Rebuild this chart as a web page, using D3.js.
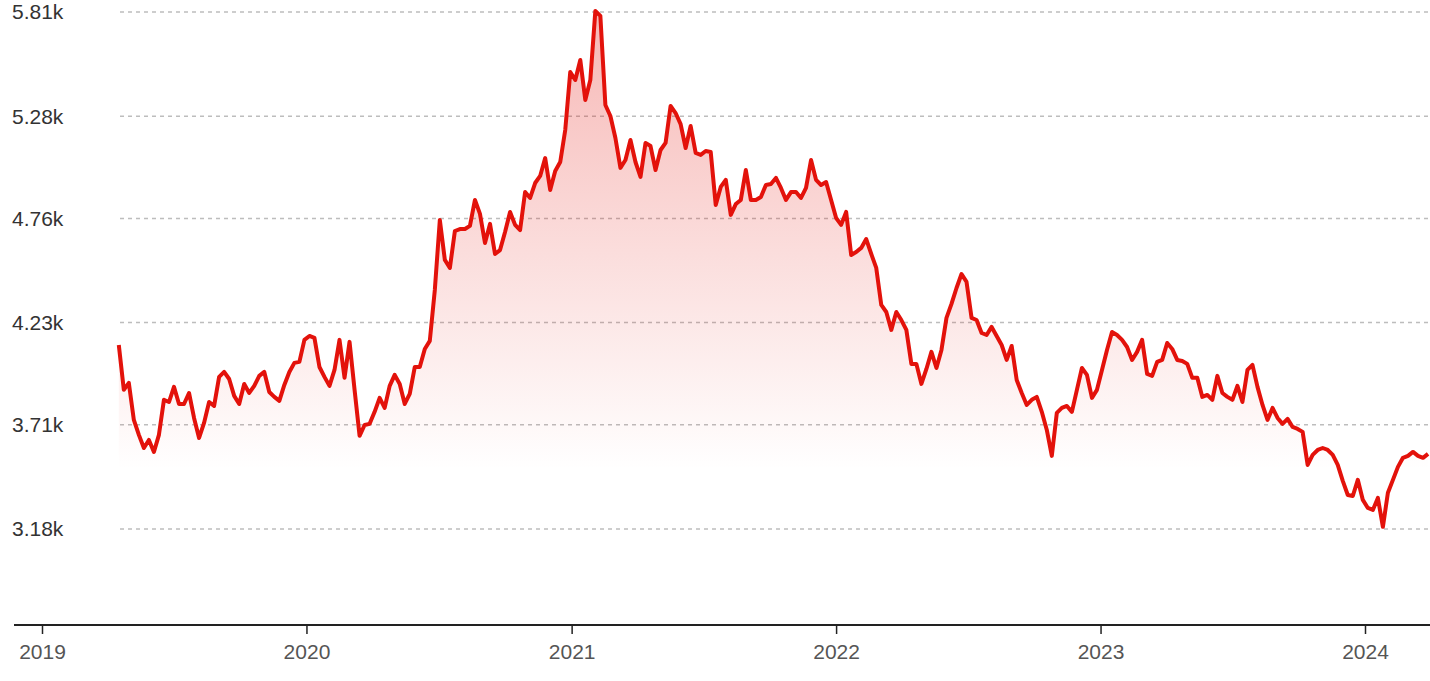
<!DOCTYPE html>
<html><head><meta charset="utf-8">
<script src="https://cdn.jsdelivr.net/npm/d3@7"></script>
<style>body{margin:0;background:#fff}svg text{font-family:"Liberation Sans",Arial,sans-serif}</style>
</head><body><svg id="chart"></svg>
<script>
const W = 1430, H = 681;
const startDate = new Date(2019, 3, 17);
const endDate = new Date(2024, 2, 28);
const yTicks = [3.18, 3.71, 4.23, 4.76, 5.28, 5.81];
const xTickYears = [2019, 2020, 2021, 2022, 2023, 2024];
// weekly closing values (thousands)
const values = [
4.116,3.888,3.923,3.735,3.659,3.592,3.633,3.572,3.659,3.837,3.826,3.903,3.816,3.816,3.872,3.745,3.643,3.720,3.826,3.806,
3.954,3.979,3.943,3.857,3.816,3.918,3.872,3.908,3.959,3.979,3.877,3.852,3.832,3.913,3.979,4.025,4.030,4.142,4.162,4.152,
4.004,3.954,3.908,3.989,4.142,3.949,4.132,3.888,3.654,3.709,3.715,3.776,3.847,3.796,3.908,3.964,3.918,3.816,3.867,4.004,
4.004,4.096,4.137,4.396,4.752,4.549,4.508,4.696,4.706,4.706,4.722,4.854,4.783,4.635,4.732,4.579,4.599,4.691,4.793,4.727,
4.701,4.894,4.864,4.940,4.976,5.067,4.905,5.001,5.047,5.210,5.505,5.464,5.566,5.362,5.464,5.815,5.790,5.337,5.281,5.169,
5.017,5.057,5.159,5.047,4.971,5.144,5.128,5.006,5.108,5.144,5.332,5.296,5.240,5.118,5.230,5.093,5.083,5.103,5.098,4.828,
4.920,4.956,4.778,4.833,4.854,5.006,4.854,4.854,4.869,4.930,4.935,4.966,4.915,4.854,4.894,4.894,4.864,4.915,5.057,4.956,
4.930,4.945,4.854,4.762,4.727,4.793,4.574,4.589,4.610,4.655,4.579,4.508,4.320,4.284,4.193,4.284,4.243,4.193,4.020,4.020,
3.918,3.994,4.081,3.999,4.091,4.254,4.325,4.406,4.477,4.437,4.254,4.243,4.177,4.167,4.208,4.162,4.116,4.040,4.111,3.938,
3.872,3.811,3.837,3.852,3.776,3.684,3.552,3.771,3.796,3.806,3.776,3.888,3.999,3.964,3.847,3.888,3.989,4.091,4.182,4.167,
4.142,4.106,4.040,4.081,4.142,3.969,3.959,4.030,4.040,4.126,4.096,4.040,4.035,4.020,3.949,3.949,3.852,3.862,3.837,3.959,
3.872,3.852,3.837,3.908,3.826,3.989,4.015,3.903,3.811,3.735,3.796,3.745,3.715,3.740,3.699,3.689,3.674,3.506,3.557,3.582,
3.592,3.582,3.557,3.506,3.425,3.353,3.348,3.430,3.328,3.287,3.277,3.338,3.191,3.364,3.430,3.496,3.542,3.552,3.572,3.552,
3.542,3.562
];

const stepMs = (endDate - startDate) / (values.length - 1);
const data = values.map((v, i) => ({date: new Date(+startDate + i * stepMs), v}));

const svg = d3.select("#chart").attr("width", W).attr("height", H);

const x = d3.scaleTime()
  .domain([new Date(2019, 0, 1), new Date(2024, 0, 1)])
  .range([42, 1365]);
const y = d3.scaleLinear().domain([3.18, 5.81]).range([529, 12]);
const baseY = 625;

// gradient
const grad = svg.append("defs").append("linearGradient")
  .attr("id", "fill").attr("x1", 0).attr("x2", 0)
  .attr("gradientUnits", "userSpaceOnUse")
  .attr("y1", y(5.81)).attr("y2", 470);
grad.append("stop").attr("offset", 0).attr("stop-color", "#e3120b").attr("stop-opacity", 0.3);
grad.append("stop").attr("offset", 1).attr("stop-color", "#e3120b").attr("stop-opacity", 0);

// grid
svg.append("g").selectAll("line").data(yTicks).join("line")
  .attr("x1", 120).attr("x2", W).attr("y1", d => y(d)).attr("y2", d => y(d))
  .attr("stroke", "#bdbdbd").attr("stroke-width", 1.5).attr("stroke-dasharray", "4,4");

svg.append("g").selectAll("text").data(yTicks).join("text")
  .attr("x", 12).attr("y", d => y(d)).attr("dy", "0.35em")
  .attr("font-size", 21).attr("fill", "#333")
  .text(d => d.toFixed(2) + "k");

svg.append("path").datum(data)
  .attr("fill", "url(#fill)")
  .attr("d", d3.area().x(d => x(d.date)).y0(470).y1(d => y(d.v)));

svg.append("path").datum(data)
  .attr("fill", "none").attr("stroke", "#e3120b").attr("stroke-width", 4)
  .attr("stroke-linejoin", "round")
  .attr("d", d3.line().x(d => x(d.date)).y(d => y(d.v)));

// x axis
const xAxis = d3.axisBottom(x)
  .tickValues(xTickYears.map(yr => new Date(yr, 0, 1)))
  .tickFormat(d3.timeFormat("%Y")).tickSize(9).tickSizeOuter(0);
const gx = svg.append("g").attr("transform", `translate(0,${baseY})`).call(xAxis);
gx.select(".domain").remove();
gx.selectAll(".tick line").attr("stroke", "#222").attr("stroke-width", 1.5);
gx.selectAll(".tick text").attr("font-size", 21).attr("fill", "#555").attr("dy", "1.05em")
  .attr("font-family", "Liberation Sans, Arial, sans-serif");
svg.append("line").attr("x1", 14).attr("x2", W).attr("y1", baseY).attr("y2", baseY)
  .attr("stroke", "#222").attr("stroke-width", 2);
</script></body></html>
